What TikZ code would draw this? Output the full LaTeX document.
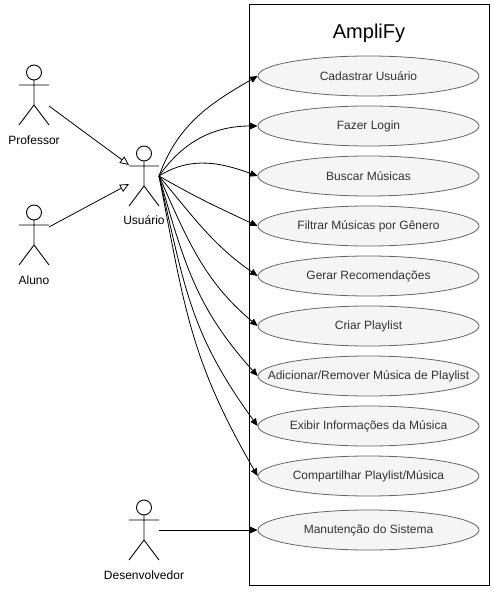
\documentclass[tikz,border=0pt]{standalone}
\usepackage{fontspec}
\setmainfont{Liberation Sans}
\usetikzlibrary{arrows.meta,shapes.geometric}
\definecolor{ucfill}{HTML}{F5F5F5}
\definecolor{ucdraw}{HTML}{666666}
\definecolor{uctext}{HTML}{333333}
\newcommand\stickfig[1]{%
  \draw[figline] ([yshift=-7.5pt]#1.north) circle (7.5pt)
    ([yshift=-15pt]#1.north) -- ([yshift=-40pt]#1.north)
    ([yshift=-20pt]#1.north west) -- ([yshift=-20pt]#1.north east)
    (#1.south west) -- ([yshift=-40pt]#1.north) -- (#1.south east);}
\begin{document}
\begin{tikzpicture}[x=1pt,y=-1pt,
  actor/.style={rectangle, minimum width=30pt, minimum height=60pt, inner sep=0pt, outer sep=0pt},
  actorlabel/.style={font=\fontsize{12pt}{14pt}\selectfont, inner sep=0pt},
  usecase/.style={ellipse, draw=ucdraw, fill=ucfill, minimum width=221pt, minimum height=40pt,
    inner sep=0pt, text=uctext, font=\fontsize{12pt}{14pt}\selectfont, line width=0.8pt},
  sysbox/.style={draw, line width=1pt, minimum width=240pt, minimum height=580pt, inner sep=0pt},
  assoc/.style={-{Triangle[length=7.5pt,width=6.5pt]}, line width=0.8pt},
  gen/.style={-{Triangle[open,length=9pt,width=8pt]}, line width=0.8pt},
  figline/.style={line width=0.9pt}]
\useasboundingbox (0,0) rectangle (493,593);

\node[sysbox] (sys) at (369,295) {};
\node[font=\fontsize{20pt}{24pt}\selectfont, inner sep=0pt] (title) at (369,33) {AmpliFy};

\node[usecase] (c1) at (368.5,76) {\makebox[0pt]{Cadastrar Usuário}};
\node[usecase] (c2) at (368.5,126) {\makebox[0pt]{Fazer Login}};
\node[usecase] (c3) at (368.5,176) {\makebox[0pt]{Buscar Músicas}};
\node[usecase] (c4) at (368.5,226) {\makebox[0pt]{Filtrar Músicas por Gênero}};
\node[usecase] (c5) at (368.5,276) {\makebox[0pt]{Gerar Recomendações}};
\node[usecase] (c6) at (368.5,326) {\makebox[0pt]{Criar Playlist}};
\node[usecase] (c7) at (368.5,376) {\makebox[0pt]{Adicionar/Remover Música de Playlist}};
\node[usecase] (c8) at (368.5,426) {\makebox[0pt]{Exibir Informações da Música}};
\node[usecase] (c9) at (368.5,476) {\makebox[0pt]{Compartilhar Playlist/Música}};
\node[usecase] (c10) at (368.5,530) {\makebox[0pt]{Manutenção do Sistema}};

\node[actor] (prof) at (34,95) {};
\node[actor] (usr) at (144,176) {};
\node[actor] (aluno) at (34,235) {};
\node[actor] (dev) at (144,530) {};
\stickfig{prof}
\stickfig{usr}
\stickfig{aluno}
\stickfig{dev}
\node[actorlabel] (profl) at ([yshift=-15pt]prof.south) {Professor};
\node[actorlabel] (usrl) at ([yshift=-14pt]usr.south) {Usuário};
\node[actorlabel] (alunol) at ([yshift=-15pt]aluno.south) {Aluno};
\node[actorlabel] (devl) at ([yshift=-15pt]dev.south) {Desenvolvedor};

\draw[gen] (prof) -- (usr);
\draw[gen] (aluno) -- (usr);
\draw[assoc] (dev) -- (c10);

\draw[assoc] (usr.east) to[out=70,in=210] (c1.west);
\draw[assoc] (usr.east) to[out=55,in=180] (c2.west);
\draw[assoc] (usr.east) to[out=32,in=160] (c3.west);
\draw[assoc] (usr.east) to[out=-30,in=155] (c4.west);
\draw[assoc] (usr.east) to[out=-50,in=145] (c5.west);
\draw[assoc] (usr.east) to[out=-66,in=140] (c6.west);
\draw[assoc] (usr.east) to[out=-74,in=132,looseness=1.05] (c7.west);
\draw[assoc] (usr.east) to[out=-77,in=126,looseness=1.1] (c8.west);
\draw[assoc] (usr.east) to[out=-79,in=120,looseness=1.1] (c9.west);
\end{tikzpicture}
\end{document}
